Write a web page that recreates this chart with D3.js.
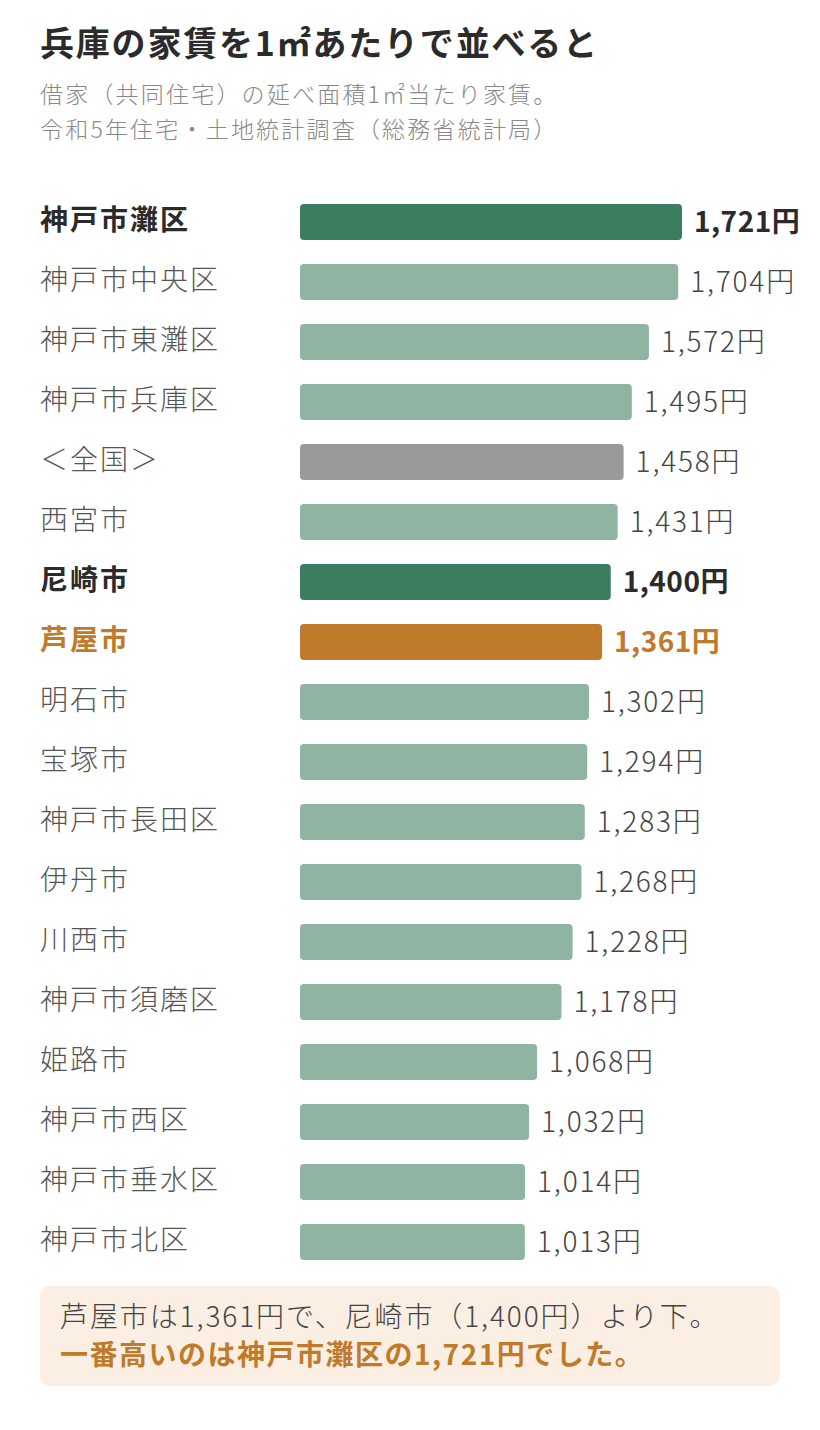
<!DOCTYPE html>
<html>
<head>
<meta charset="utf-8">
<script src="https://cdn.jsdelivr.net/npm/d3@7"></script>
<style>
  body { margin: 0; background: #fff; }
  svg { display: block; font-family: "Noto Sans CJK JP", "Noto Sans", sans-serif; }
</style>
</head>
<body>
<div id="chart"></div>
<script>
const names = ["神戸市灘区", "神戸市中央区", "神戸市東灘区", "神戸市兵庫区", "＜全国＞", "西宮市",
  "尼崎市", "芦屋市", "明石市", "宝塚市", "神戸市長田区", "伊丹市", "川西市", "神戸市須磨区",
  "姫路市", "神戸市西区", "神戸市垂水区", "神戸市北区"];
const rents = [1721, 1704, 1572, 1495, 1458, 1431, 1400, 1361, 1302, 1294, 1283, 1268, 1228, 1178,
  1068, 1032, 1014, 1013];
// kind: top / base / national / ama / ashiya
const kinds = ["top", "base", "base", "base", "national", "base", "ama", "ashiya", "base", "base",
  "base", "base", "base", "base", "base", "base", "base", "base"];

const titleText = "兵庫の家賃を1㎡あたりで並べると";
const subLines = ["借家（共同住宅）の延べ面積1㎡当たり家賃。", "令和5年住宅・土地統計調査（総務省統計局）"];
const noteLine1 = "芦屋市は1,361円で、尼崎市（1,400円）より下。";
const noteLine2 = "一番高いのは神戸市灘区の1,721円でした。";

const width = 820, height = 1430;
const barColor = { top: "#3b7d5e", base: "#8fb5a2", national: "#9a9a9a", ama: "#3b7d5e", ashiya: "#c07a2c" };
const textColor = { top: "#2b2b2b", base: "#555", national: "#555", ama: "#2b2b2b", ashiya: "#c07a2c" };
const bold = k => k === "top" || k === "ama" || k === "ashiya";

const data = names.map((n, i) => ({ name: n, value: rents[i], kind: kinds[i] }));

const svg = d3.select("#chart").append("svg")
  .attr("width", width)
  .attr("height", height);

svg.append("text")
  .attr("x", 40).attr("y", 56)
  .attr("font-size", 34).attr("font-weight", 700)
  .attr("letter-spacing", 1.8)
  .attr("fill", "#2b2b2b")
  .text(titleText);

svg.selectAll("text.sub")
  .data(subLines)
  .enter().append("text")
  .attr("class", "sub")
  .attr("x", 40).attr("y", (d, i) => 103 + i * 35)
  .attr("font-size", 23).attr("font-weight", 300)
  .attr("letter-spacing", 2.2)
  .attr("fill", "#888")
  .text(d => d);

const x = d3.scaleLinear()
  .domain([0, d3.max(rents)])
  .range([0, 382]);

const y = d3.scaleBand()
  .domain(names)
  .range([192, 192 + 60 * names.length])
  .paddingInner(0.4)
  .paddingOuter(0.2);

const row = svg.selectAll("g.row")
  .data(data)
  .enter().append("g")
  .attr("class", "row")
  .attr("transform", d => "translate(0," + y(d.name) + ")");

row.append("rect")
  .attr("x", 300)
  .attr("width", d => x(d.value))
  .attr("height", y.bandwidth())
  .attr("rx", 4)
  .attr("fill", d => barColor[d.kind]);

row.append("text")
  .attr("x", 40)
  .attr("y", y.bandwidth() / 2 - 2)
  .attr("dy", "0.35em")
  .attr("font-size", 28)
  .attr("letter-spacing", 2)
  .attr("font-weight", d => bold(d.kind) ? 700 : 300)
  .attr("fill", d => textColor[d.kind])
  .text(d => d.name);

row.append("text")
  .attr("x", d => 300 + x(d.value) + 12)
  .attr("y", y.bandwidth() / 2)
  .attr("dy", "0.35em")
  .attr("font-size", 28)
  .attr("letter-spacing", d => bold(d.kind) ? 0.5 : 1.8)
  .attr("font-weight", d => bold(d.kind) ? 700 : 300)
  .attr("fill", d => d.kind === "ashiya" ? "#c07a2c" : (bold(d.kind) ? "#2b2b2b" : "#444"))
  .text(d => d3.format(",")(d.value) + "円");

// note box
const note = svg.append("g").attr("transform", "translate(40,1286)");
note.append("rect")
  .attr("width", 740).attr("height", 100)
  .attr("rx", 10)
  .attr("fill", "#faefe2");
note.append("text")
  .attr("x", 20).attr("y", 41)
  .attr("font-size", 28).attr("font-weight", 300)
  .attr("letter-spacing", 1.9)
  .attr("fill", "#444")
  .text(noteLine1);
note.append("text")
  .attr("x", 20).attr("y", 79)
  .attr("font-size", 28).attr("font-weight", 700)
  .attr("letter-spacing", 1.5)
  .attr("fill", "#c07a2c")
  .text(noteLine2);
</script>
</body>
</html>
